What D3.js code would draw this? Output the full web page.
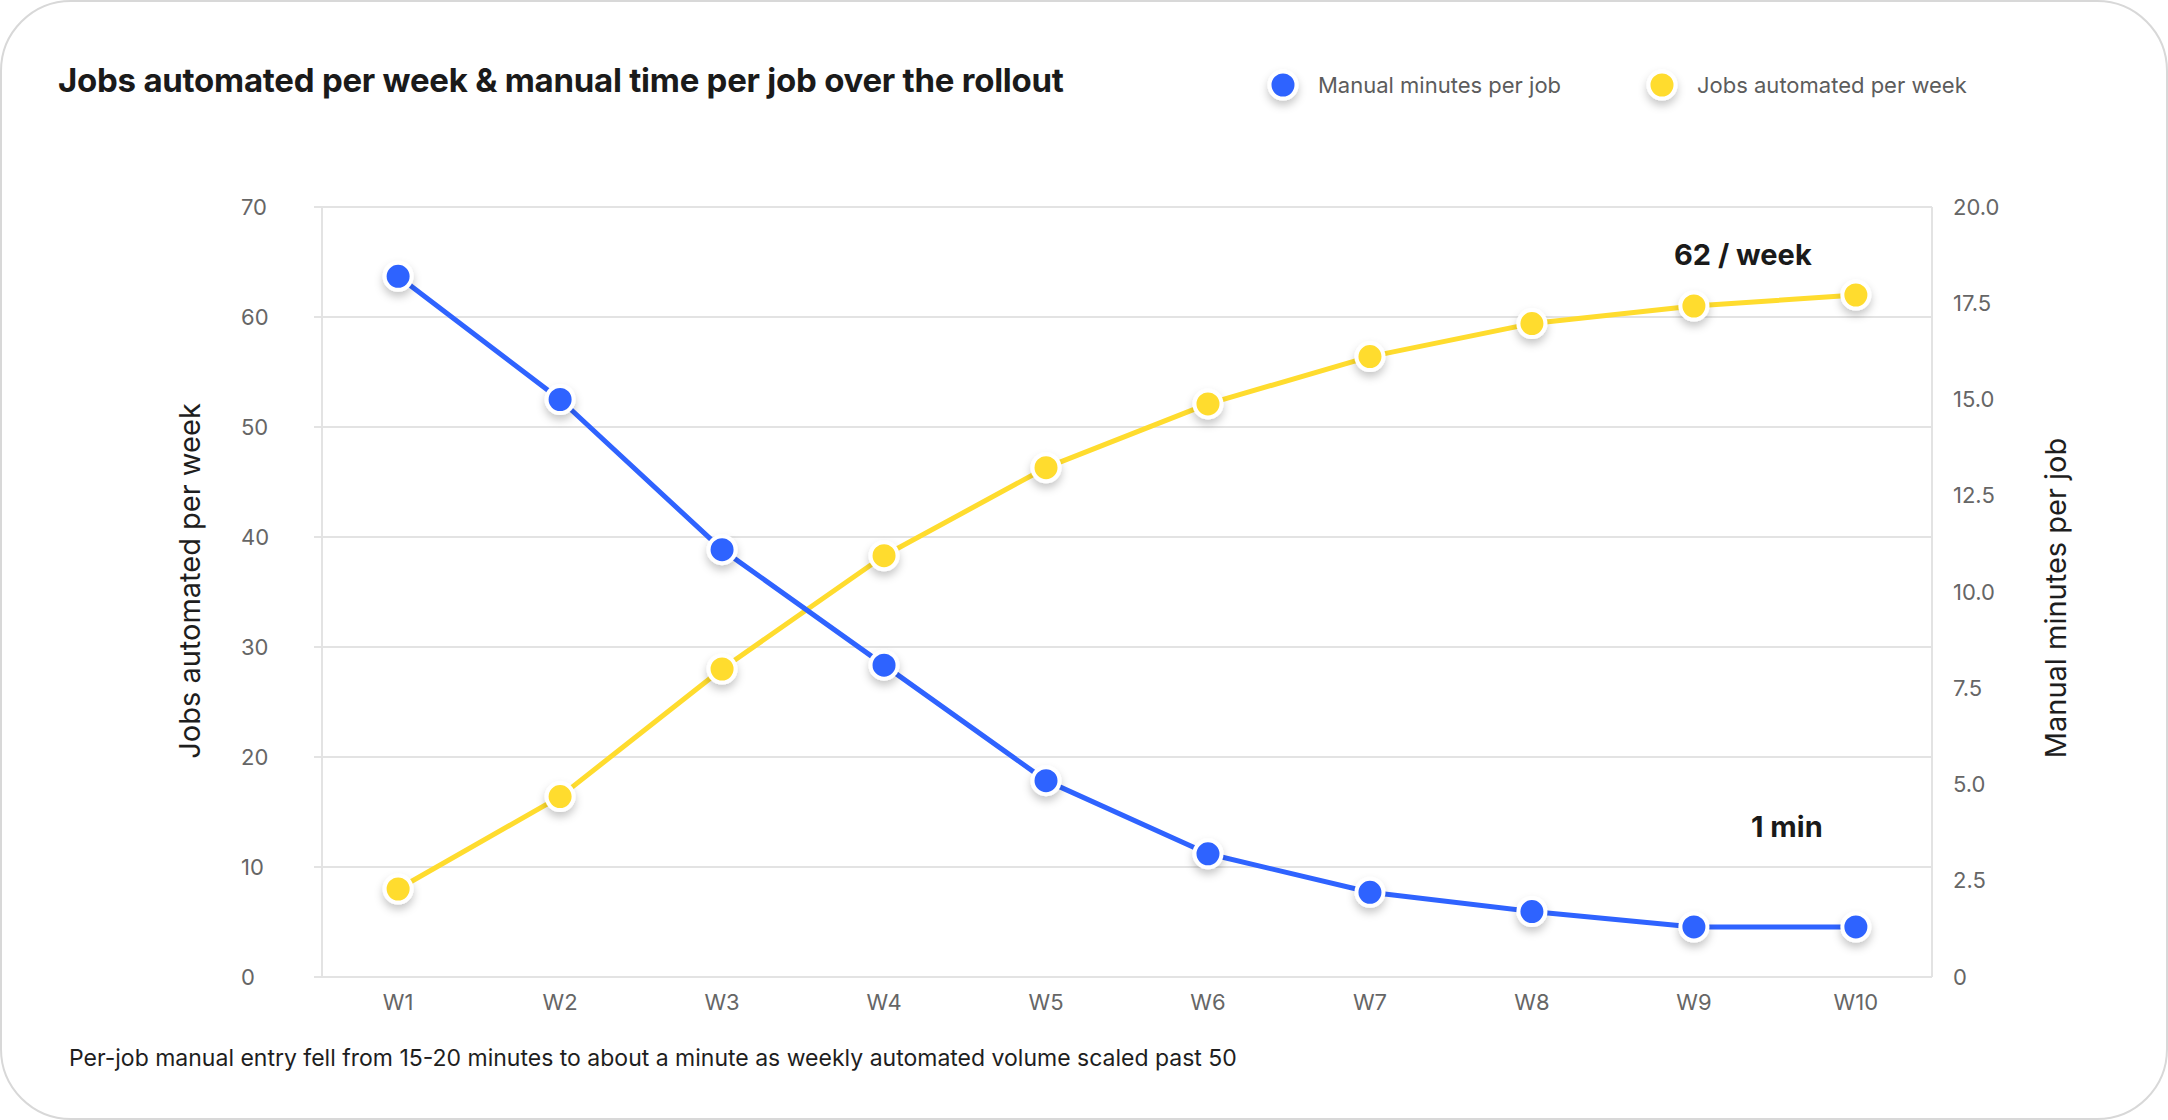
<!DOCTYPE html>
<html>
<head>
<meta charset="utf-8">
<script src="https://cdn.jsdelivr.net/npm/d3@7"></script>
<style>
  html, body { margin: 0; padding: 0; background: #ffffff; }
  svg { display: block; font-family: Inter, "Noto Sans", sans-serif; }
</style>
</head>
<body>
<svg id="chart" width="2168" height="1120"></svg>
<script>
// chart values
var weeks = ['W1', 'W2', 'W3', 'W4', 'W5', 'W6', 'W7', 'W8', 'W9', 'W10'];
var jobsPerWeek = [8, 16.4, 28, 38.3, 46.3, 52.1, 56.4, 59.4, 61, 62];
var manualMinutes = [18.2, 15, 11.1, 8.1, 5.1, 3.2, 2.2, 1.7, 1.3, 1.3];
var leftTicks = [0, 10, 20, 30, 40, 50, 60, 70];
var rightTicks = [0, 2.5, 5, 7.5, 10, 12.5, 15, 17.5, 20];

var blue = '#2f63ff';
var yellow = '#ffdc2e';

var svg = d3.select('#chart');

// card
svg.append('rect')
  .attr('x', 1).attr('y', 1)
  .attr('width', 2166).attr('height', 1118)
  .attr('rx', 70).attr('ry', 70)
  .attr('fill', '#fff')
  .attr('stroke', '#d8d8d8')
  .attr('stroke-width', 2);

// soft shadow under the dots
var defs = svg.append('defs');
defs.append('filter')
  .attr('id', 'dotShadow')
  .attr('x', '-60%').attr('y', '-60%')
  .attr('width', '220%').attr('height', '240%')
  .append('feDropShadow')
  .attr('dx', 0).attr('dy', 5)
  .attr('stdDeviation', 4)
  .attr('flood-color', '#000')
  .attr('flood-opacity', 0.22);

var plot = { left: 322, right: 1932, top: 207, bottom: 977 };

var x = d3.scalePoint().domain(weeks).range([plot.left, plot.right]).padding(0.47);
var yJobs = d3.scaleLinear().domain([0, 70]).range([plot.bottom, plot.top]);
var yMin = d3.scaleLinear().domain([0, 20]).range([plot.bottom, plot.top]);

// title
svg.append('text')
  .attr('x', 58).attr('y', 92)
  .attr('font-size', 33)
  .attr('font-weight', 700)
  .attr('letter-spacing', -0.25)
  .attr('fill', '#1a1a1a')
  .text('Jobs automated per week & manual time per job over the rollout');

// legend
var legendItems = [
  { label: 'Manual minutes per job', color: blue, x: 1283 },
  { label: 'Jobs automated per week', color: yellow, x: 1662 }
];
var legend = svg.append('g').selectAll('g').data(legendItems).join('g')
  .attr('transform', function(d) { return 'translate(' + d.x + ',85)'; });
legend.append('circle')
  .attr('r', 13.5)
  .attr('fill', function(d) { return d.color; })
  .attr('stroke', '#fff')
  .attr('stroke-width', 4)
  .attr('filter', 'url(#dotShadow)');
legend.append('text')
  .attr('x', 35)
  .attr('dy', '0.35em')
  .attr('font-size', 22)
  .attr('fill', '#5c5c5c')
  .text(function(d) { return d.label; });

// gridlines from the left axis
svg.append('g').selectAll('line').data(leftTicks).join('line')
  .attr('x1', plot.left - 8).attr('x2', plot.right)
  .attr('y1', function(d) { return yJobs(d); })
  .attr('y2', function(d) { return yJobs(d); })
  .attr('stroke', '#e3e3e3')
  .attr('stroke-width', 2);

// frame sides
svg.append('line')
  .attr('x1', plot.left).attr('x2', plot.left)
  .attr('y1', plot.top).attr('y2', plot.bottom)
  .attr('stroke', '#e3e3e3').attr('stroke-width', 2);
svg.append('line')
  .attr('x1', plot.right).attr('x2', plot.right)
  .attr('y1', plot.top).attr('y2', plot.bottom)
  .attr('stroke', '#e3e3e3').attr('stroke-width', 2);

// left tick labels
svg.append('g').selectAll('text').data(leftTicks).join('text')
  .attr('x', 241)
  .attr('y', function(d) { return yJobs(d); })
  .attr('dy', '0.35em')
  .attr('font-size', 22)
  .attr('fill', '#666')
  .text(function(d) { return d; });

// right tick labels
svg.append('g').selectAll('text').data(rightTicks).join('text')
  .attr('x', 1953)
  .attr('y', function(d) { return yMin(d); })
  .attr('dy', '0.35em')
  .attr('font-size', 22)
  .attr('fill', '#666')
  .text(function(d) { return d === 0 ? '0' : d3.format('.1f')(d); });

// x labels
svg.append('g').selectAll('text').data(weeks).join('text')
  .attr('x', function(d) { return x(d); })
  .attr('y', 1002)
  .attr('dy', '0.35em')
  .attr('text-anchor', 'middle')
  .attr('font-size', 22)
  .attr('fill', '#666')
  .text(function(d) { return d; });

// axis titles
svg.append('text')
  .attr('transform', 'translate(190,581) rotate(-90)')
  .attr('text-anchor', 'middle')
  .attr('dy', '0.35em')
  .attr('font-size', 29)
  .attr('fill', '#1e1e1e')
  .text('Jobs automated per week');
svg.append('text')
  .attr('transform', 'translate(2056,598) rotate(-90)')
  .attr('text-anchor', 'middle')
  .attr('dy', '0.35em')
  .attr('font-size', 29)
  .attr('fill', '#1e1e1e')
  .text('Manual minutes per job');

// lines
var jobsLine = d3.line()
  .x(function(d, i) { return x(weeks[i]); })
  .y(function(d) { return yJobs(d); });
var minLine = d3.line()
  .x(function(d, i) { return x(weeks[i]); })
  .y(function(d) { return yMin(d); });

svg.append('path')
  .attr('d', jobsLine(jobsPerWeek))
  .attr('fill', 'none')
  .attr('stroke', yellow)
  .attr('stroke-width', 5)
  .attr('stroke-linejoin', 'round');
svg.append('path')
  .attr('d', minLine(manualMinutes))
  .attr('fill', 'none')
  .attr('stroke', blue)
  .attr('stroke-width', 5)
  .attr('stroke-linejoin', 'round');

// dots
svg.append('g').selectAll('circle').data(jobsPerWeek).join('circle')
  .attr('cx', function(d, i) { return x(weeks[i]); })
  .attr('cy', function(d) { return yJobs(d); })
  .attr('r', 13.5)
  .attr('fill', yellow)
  .attr('stroke', '#fff')
  .attr('stroke-width', 4)
  .attr('filter', 'url(#dotShadow)');
svg.append('g').selectAll('circle').data(manualMinutes).join('circle')
  .attr('cx', function(d, i) { return x(weeks[i]); })
  .attr('cy', function(d) { return yMin(d); })
  .attr('r', 13.5)
  .attr('fill', blue)
  .attr('stroke', '#fff')
  .attr('stroke-width', 4)
  .attr('filter', 'url(#dotShadow)');

// end-point callouts
var last = weeks.length - 1;
svg.append('text')
  .attr('x', x(weeks[last]) - 113)
  .attr('y', yJobs(jobsPerWeek[last]) - 30)
  .attr('text-anchor', 'middle')
  .attr('font-size', 29)
  .attr('font-weight', 700)
  .attr('fill', '#1a1a1a')
  .text('62 / week');
svg.append('text')
  .attr('x', x(weeks[last]) - 69)
  .attr('y', yMin(manualMinutes[last]) - 90)
  .attr('text-anchor', 'middle')
  .attr('font-size', 29)
  .attr('font-weight', 700)
  .attr('fill', '#1a1a1a')
  .text('1 min');

// caption
svg.append('text')
  .attr('x', 69).attr('y', 1066)
  .attr('font-size', 23)
  .attr('fill', '#1e1e1e')
  .text('Per-job manual entry fell from 15-20 minutes to about a minute as weekly automated volume scaled past 50');
</script>
</body>
</html>
